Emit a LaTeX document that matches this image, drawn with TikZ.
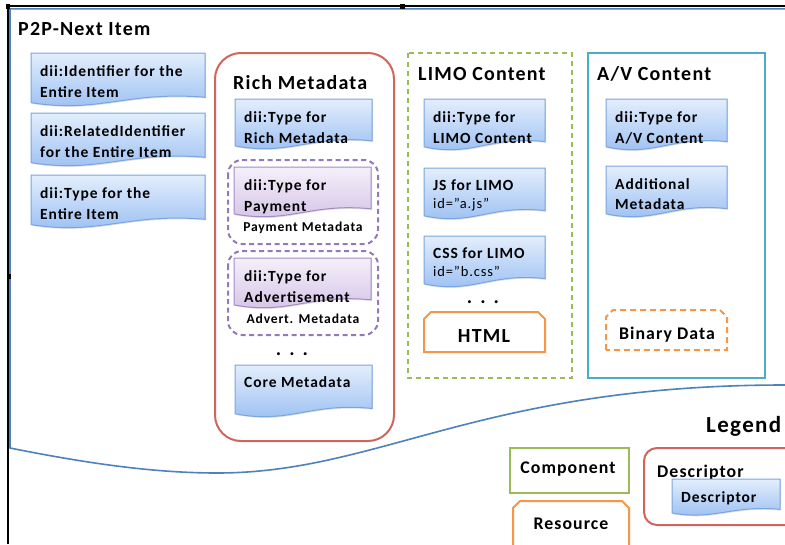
\documentclass[tikz,border=0pt]{standalone}
\usepackage{fontspec}
\setmainfont{Carlito}[LetterSpace=6]
\usetikzlibrary{shadows}
\definecolor{blueline}{HTML}{4F81BD}
\definecolor{docborder}{HTML}{7AA5E0}
\definecolor{doctop}{HTML}{E3EEFC}
\definecolor{docbot}{HTML}{96BCF2}
\definecolor{purpborder}{HTML}{A48BC6}
\definecolor{purptop}{HTML}{F5F0FA}
\definecolor{purpbot}{HTML}{D2C0E6}
\definecolor{purpdash}{HTML}{9478BA}
\definecolor{redbox}{HTML}{D0655D}
\definecolor{greenbox}{HTML}{9BBB59}
\definecolor{cyanbox}{HTML}{4BACC6}
\definecolor{orangebox}{HTML}{F79646}
\tikzset{
  bluedoc/.style={top color=doctop, bottom color=docbot, draw=docborder, line width=1pt,
    drop shadow={opacity=0.25, shadow xshift=1pt, shadow yshift=-1.2pt}},
  purpdoc/.style={top color=purptop, bottom color=purpbot, draw=purpborder, line width=1pt,
    drop shadow={opacity=0.25, shadow xshift=1pt, shadow yshift=-1.2pt}},
  doctxt/.style={inner sep=0pt, anchor=base west, font=\bfseries\fontsize{15.5}{18}\selectfont},
  idtxt/.style={inner sep=0pt, anchor=base west, font=\fontsize{14.5}{17}\selectfont},
  ttl/.style={inner sep=0pt, anchor=base west, font=\bfseries\fontsize{20}{24}\selectfont},
  smalltxt/.style={inner sep=0pt, anchor=base, font=\bfseries\fontsize{13.6}{16}\selectfont},
  dotstxt/.style={inner sep=0pt, anchor=base, font=\bfseries\fontsize{20}{24}\selectfont},
  purpgroup/.style={draw=purpdash, line width=2pt, dash pattern=on 5pt off 3.5pt, rounded corners=14pt},
  resbox/.style={draw=orangebox, line width=2pt},
}
% document shape: style, x1, y1, x2, y2
\newcommand\docshape[5]{%
  \path[#1] (#2,#3) -- (#4,#3) -- (#4,{#3+0.82*(#5-#3)})
    .. controls ({#2+0.55*(#4-#2)},{#3+0.70*(#5-#3)}) and ({#2+0.40*(#4-#2)},{#3+1.12*(#5-#3)})
    .. (#2,{#3+0.92*(#5-#3)}) -- cycle;}
% chamfered resource box: style, x1, y1, x2, y2
\newcommand\resshape[5]{%
  \path[#1] (#2,#5) -- (#2,{#3+7}) -- ({#2+7},#3) -- ({#4-7},#3) -- (#4,{#3+7}) -- (#4,#5) -- cycle;}
\begin{document}
\begin{tikzpicture}[x=1pt,y=-1pt]
\useasboundingbox (0,0) rectangle (785,544);
\fill[white] (0,0) rectangle (785,544);
% outer frame
\draw[black, line width=1.6pt] (8,544) -- (8,6) -- (785,6);
\draw[blueline, line width=1.6pt] (785,8.8) -- (10,8.8) -- (10,448)
  .. controls (80,462) and (150,473) .. (217,473)
  .. controls (380,473) and (480,385) .. (785,385);
\fill[black] (6,4) rectangle (10,9);
\fill[black] (400,4) rectangle (405,9);
\fill[black] (7,274) rectangle (11,279);
\node[ttl] (title) at (18,35) {P2P-Next Item};

% left descriptors
\docshape{bluedoc}{31}{53}{205}{107}
\node[doctxt] (d1a) at (40,76) {dii:Identifier for the};
\node[doctxt] (d1b) at (40,97) {Entire Item};
\docshape{bluedoc}{31}{113}{205}{167}
\node[doctxt] (d2a) at (40,136) {dii:RelatedIdentifier};
\node[doctxt] (d2b) at (40,157) {for the Entire Item};
\docshape{bluedoc}{31}{175}{205}{229}
\node[doctxt] (d3a) at (40,198) {dii:Type for the};
\node[doctxt] (d3b) at (40,219) {Entire Item};

% Rich Metadata
\draw[redbox, line width=2pt, rounded corners=26pt] (215,53) rectangle (394,441);
\node[ttl] (richttl) at (233,89) {Rich Metadata};
\docshape{bluedoc}{235}{99}{372}{150}
\node[doctxt] (r1a) at (244,122) {dii:Type for};
\node[doctxt] (r1b) at (244,143) {Rich Metadata};
\draw[purpgroup] (228,160) rectangle (378,244);
\docshape{purpdoc}{234}{167}{371}{218}
\node[doctxt] (p1a) at (244,190) {dii:Type for};
\node[doctxt] (p1b) at (244,211) {Payment};
\node[smalltxt] (p1c) at (303,231) {Payment Metadata};
\draw[purpgroup] (228,251) rectangle (378,335);
\docshape{purpdoc}{234}{258}{371}{309}
\node[doctxt] (a1a) at (244,281) {dii:Type for};
\node[doctxt] (a1b) at (244,302) {Advertisement};
\node[smalltxt] (a1c) at (303,323) {Advert. Metadata};
\node[dotstxt] (rdots) at (292,355) {.\hspace{8pt}.\hspace{8pt}.};
\docshape{bluedoc}{235}{365}{372}{418}
\node[doctxt] (core) at (244,387) {Core Metadata};

% LIMO Content
\draw[greenbox, line width=2pt, dash pattern=on 5pt off 4pt] (408,53) rectangle (572,378);
\node[ttl] (limottl) at (418,80) {LIMO Content};
\docshape{bluedoc}{424}{99}{545}{151}
\node[doctxt] (l1a) at (433,122) {dii:Type for};
\node[doctxt] (l1b) at (433,143) {LIMO Content};
\docshape{bluedoc}{424}{168}{545}{220}
\node[doctxt] (l2a) at (433,190) {JS for LIMO};
\node[idtxt] (l2b) at (433,208) {id="a.js"};
\docshape{bluedoc}{424}{236}{545}{288}
\node[doctxt] (l3a) at (433,258) {CSS for LIMO};
\node[idtxt] (l3b) at (433,276) {id=”b.css"};
\node[dotstxt] (ldots) at (483,303) {.\hspace{8pt}.\hspace{8pt}.};
\resshape{resbox}{424}{312}{545}{352}
\node[inner sep=0pt, anchor=base, font=\bfseries\fontsize{20}{24}\selectfont] (html) at (484,342) {HTML};

% A/V Content
\draw[cyanbox, line width=2pt] (588,53) rectangle (765,378);
\node[ttl] (avttl) at (597,80) {A/V Content};
\docshape{bluedoc}{606}{99}{727}{151}
\node[doctxt] (v1a) at (615,122) {dii:Type for};
\node[doctxt] (v1b) at (615,143) {A/V Content};
\docshape{bluedoc}{606}{166}{727}{218}
\node[doctxt] (v2a) at (615,189) {Additional};
\node[doctxt] (v2b) at (615,209) {Metadata};
\resshape{resbox, dash pattern=on 6pt off 4pt}{606}{310}{727}{350}
\node[inner sep=0pt, anchor=base, font=\bfseries\fontsize{17.8}{21}\selectfont] (bin) at (667,339) {Binary Data};

% Legend
\node[inner sep=0pt, anchor=base west, font=\bfseries\fontsize{23}{27}\selectfont] (legend) at (706,432) {Legend};
\draw[greenbox, line width=2pt] (510,448) rectangle (629,493);
\node[inner sep=0pt, anchor=base, font=\bfseries\fontsize{17.8}{21}\selectfont] (comp) at (568,473) {Component};
\resshape{resbox}{513}{501}{629}{550}
\node[inner sep=0pt, anchor=base, font=\bfseries\fontsize{17.8}{21}\selectfont] (res) at (571,529) {Resource};
\draw[redbox, line width=2pt, rounded corners=13pt] (644,448) rectangle (800,525);
\node[inner sep=0pt, anchor=base west, font=\bfseries\fontsize{17.8}{21}\selectfont] (desc1) at (657,477) {Descriptor};
\docshape{bluedoc}{672}{479}{780}{516}
\node[inner sep=0pt, anchor=base west, font=\bfseries\fontsize{15.5}{18}\selectfont] (desc2) at (681,502) {Descriptor};
\end{tikzpicture}
\end{document}
